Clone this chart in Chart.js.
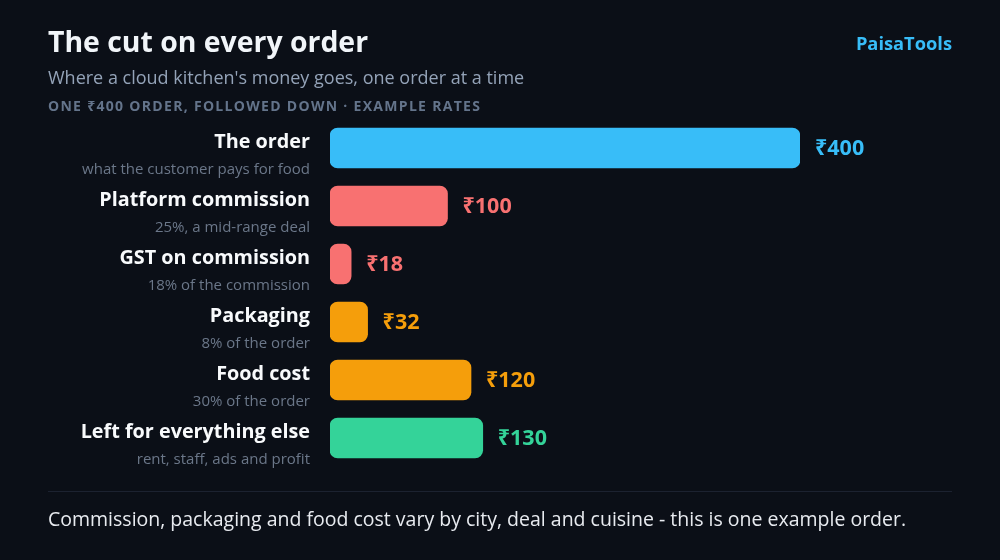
<!DOCTYPE html>
<html>
<head>
<meta charset="utf-8">
<script src="https://cdn.jsdelivr.net/npm/chart.js@4/dist/chart.umd.min.js"></script>
<style>
  html, body { margin:0; padding:0; background:#0b0f17; }
  body { width:1000px; height:560px; position:relative; overflow:hidden; font-family:"Open Sans","Noto Sans",sans-serif; }
  #wrap { position:absolute; left:0; top:0; width:1000px; height:560px; }
  .t { position:absolute; white-space:nowrap; line-height:1; }
  #title { left:48px; top:27px; font-size:28.4px; font-weight:700; color:#f1f5f9; }
  #sub { left:48px; top:68px; font-size:18px; color:#94a3b8; }
  #cap { left:48px; top:99px; font-size:14px; font-weight:700; color:#64748b; letter-spacing:1.3px; }
  #brand { right:48px; top:34px; font-size:18.3px; font-weight:700; color:#38bdf8; }
  #rule { position:absolute; left:48px; width:904px; top:491px; height:1px; background:#1c2230; }
  #foot { left:48px; top:509px; font-size:19.5px; color:#e8ebf0; }
</style>
</head>
<body>
<div id="wrap"><canvas id="c" width="1000" height="560"></canvas></div>
<div class="t" id="title">The cut on every order</div>
<div class="t" id="sub">Where a cloud kitchen's money goes, one order at a time</div>
<div class="t" id="cap">ONE ₹400 ORDER, FOLLOWED DOWN · EXAMPLE RATES</div>
<div class="t" id="brand">PaisaTools</div>
<div id="rule"></div>
<div class="t" id="foot">Commission, packaging and food cost vary by city, deal and cuisine - this is one example order.</div>
<script>
const categories = ["The order","Platform commission","GST on commission","Packaging","Food cost","Left for everything else"];
const subtitles = ["what the customer pays for food","25%, a mid-range deal","18% of the commission","8% of the order","30% of the order","rent, staff, ads and profit"];
const values = [400,100,18,32,120,130];
const valueLabels = ["₹400","₹100","₹18","₹32","₹120","₹130"];
const barColors = ["#38bdf8","#f87171","#f87171","#f59e0b","#f59e0b","#34d399"];

const FONT = '"Open Sans","Noto Sans",sans-serif';

const labelPlugin = {
  id: 'rowLabels',
  afterDatasetsDraw(chart) {
    const ctx = chart.ctx;
    const y = chart.scales.y;
    const meta = chart.getDatasetMeta(0);
    ctx.save();
    categories.forEach((cat, i) => {
      const cy = y.getPixelForValue(i);
      ctx.textAlign = 'right';
      ctx.textBaseline = 'middle';
      ctx.fillStyle = '#f8fafc';
      ctx.font = '700 19.8px ' + FONT;
      ctx.fillText(cat, 310, cy - 6);
      ctx.fillStyle = '#6b7789';
      ctx.font = '400 15px ' + FONT;
      ctx.fillText(subtitles[i], 310, cy + 22);
      const bar = meta.data[i];
      ctx.textAlign = 'left';
      ctx.fillStyle = barColors[i];
      ctx.font = '700 21.5px ' + FONT;
      ctx.fillText(valueLabels[i], bar.x + 15, cy + 1);
    });
    ctx.restore();
  }
};

new Chart(document.getElementById('c'), {
  type: 'bar',
  data: {
    labels: categories,
    datasets: [{
      data: values,
      backgroundColor: barColors,
      borderRadius: 8,
      borderSkipped: false,
      barThickness: 40
    }]
  },
  options: {
    indexAxis: 'y',
    responsive: false,
    animation: false,
    layout: { padding: { left: 330, right: 200, top: 119, bottom: 93 } },
    scales: {
      x: { display: false, min: 0, max: 400 },
      y: { display: false }
    },
    plugins: { legend: { display: false }, tooltip: { enabled: false } }
  },
  plugins: [labelPlugin]
});
</script>
</body>
</html>
